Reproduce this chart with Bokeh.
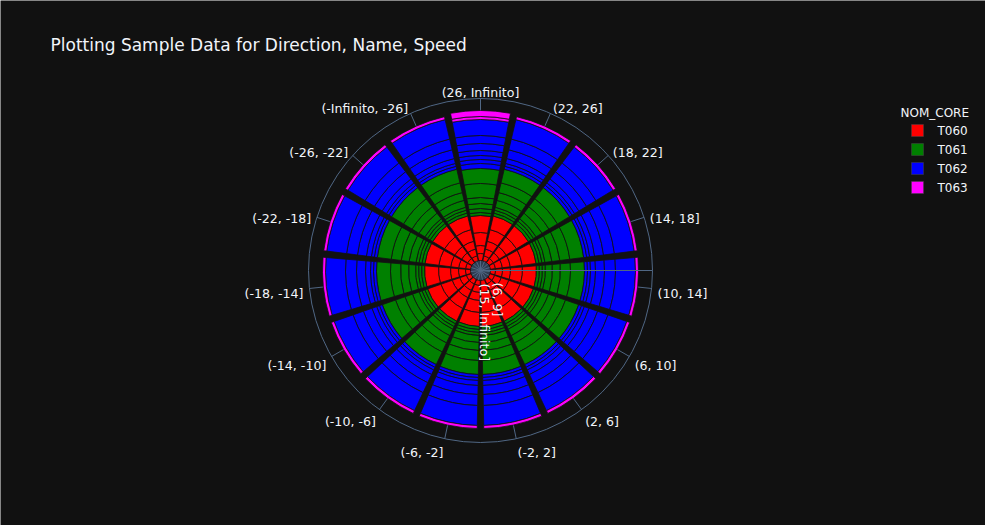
import numpy as np
from bokeh.plotting import figure
from bokeh.models import Range1d, ColumnDataSource
from bokeh.embed import file_html
from bokeh.resources import INLINE
from bokeh.core.properties import value

# ---------------- data ----------------
chart_title = "Plotting Sample Data for Direction, Name, Speed"
directions = ["(26, Infinito]", "(22, 26]", "(18, 22]", "(14, 18]", "(10, 14]",
              "(6, 10]", "(2, 6]", "(-2, 2]", "(-6, -2]", "(-10, -6]",
              "(-14, -10]", "(-18, -14]", "(-22, -18]", "(-26, -22]", "(-Infinito, -26]"]
series_names = ["T060", "T061", "T062", "T063"]
series_colors = ["#ff0000", "#008000", "#0000ff", "#ff00ff"]
legend_title = "NOM_CORE"
radial_tick_labels = ["(6, 9]", "(15, Infinito]"]

# stacked record values (radial units) for each series, most directions
seg_T060 = [5, 7, 8, 12, 14]
seg_T061 = [3, 3, 3, 7, 8, 10, 14]
seg_T062 = [3, 3, 5, 9, 11, 20]
seg_T063 = [3]
# direction "(26, Infinito]"
seg_T060_top = [7, 8, 13, 17]
seg_T061_top = [3, 4, 5, 6, 14, 15]
seg_T062_top = [5, 4, 4, 5, 7, 8, 16]
seg_T063_top = [3, 6]

default_segments = [seg_T060, seg_T061, seg_T062, seg_T063]
top_segments = [seg_T060_top, seg_T061_top, seg_T062_top, seg_T063_top]

# ---------------- layout constants ----------------
BG = "#111111"
GRID = "#506784"
TXT = "#f2f5fa"
FONT = "DejaVu Sans"
HUB = 10          # radial axis offset (hole)
R_OUT = 172       # outer angular axis circle
STEP = 360.0 / len(directions)
BAR_W = STEP * 0.9

p = figure(width=985, height=525, output_backend="svg", toolbar_location=None,
           x_range=Range1d(-480, 505), y_range=Range1d(-255, 270),
           min_border=0, min_border_left=0, min_border_right=0,
           min_border_top=0, min_border_bottom=0)
p.axis.visible = False
p.grid.visible = False
p.outline_line_color = None
p.background_fill_color = BG
p.border_fill_color = BG

thetas = np.array([90 - STEP * i for i in range(len(directions))])

# hub + angular grid lines
p.circle(x=[0], y=[0], radius=HUB, fill_color="#2f3d52", line_color=None)
rad = np.deg2rad(thetas)
p.segment(x0=np.zeros(len(rad)), y0=np.zeros(len(rad)),
          x1=R_OUT * np.cos(rad), y1=R_OUT * np.sin(rad),
          line_color=GRID, line_width=1)
p.circle(x=[0], y=[0], radius=R_OUT, fill_color=None, line_color=GRID, line_width=1)

# stacked bars
inner, outer, start, end, colors = [], [], [], [], []
for i, th in enumerate(thetas):
    segs = top_segments if directions[i] == "(26, Infinito]" else default_segments
    base = HUB
    for s, vals in enumerate(segs):
        for v in vals:
            inner.append(base)
            outer.append(base + v)
            start.append(np.deg2rad(th - BAR_W / 2))
            end.append(np.deg2rad(th + BAR_W / 2))
            colors.append(series_colors[s])
            base += v
src = ColumnDataSource(dict(x=[0] * len(inner), y=[0] * len(inner), inner=inner,
                            outer=outer, start=start, end=end, color=colors))
p.annular_wedge(x="x", y="y", inner_radius="inner", outer_radius="outer",
                start_angle="start", end_angle="end", fill_color="color",
                line_color=BG, line_width=0.8, source=src)

# radial axis line
p.segment(x0=[0], y0=[0], x1=[R_OUT], y1=[0], line_color=GRID, line_width=1)

# angular tick labels
R_LAB = 178
for lab, th in zip(directions, thetas):
    t = np.deg2rad(th)
    c, s = np.cos(t), np.sin(t)
    if c > 0.1:
        align = "left"
    elif c < -0.1:
        align = "right"
    else:
        align = "center"
    xx = R_LAB * c
    yy = R_LAB * s - 4 * (1 - s)
    p.text(x=[xx], y=[yy], text=[lab], text_align=align, text_baseline="middle",
           text_color=TXT, text_font=value(FONT), text_font_size="12.6px")

# radial tick labels (rotated)
p.text(x=[17], y=[-12], text=[radial_tick_labels[0]], angle=-np.pi / 2,
       text_align="left", text_baseline="middle", text_color=TXT,
       text_font=value(FONT), text_font_size="12.6px")
p.text(x=[4], y=[-13], text=[radial_tick_labels[1]], angle=-np.pi / 2,
       text_align="left", text_baseline="middle", text_color=TXT,
       text_font=value(FONT), text_font_size="12.6px")

# title
p.text(x=[-430], y=[226], text=[chart_title], text_align="left", text_baseline="middle",
       text_color=TXT, text_font=value(FONT), text_font_size="17px")

# legend
p.text(x=[420], y=[158], text=[legend_title], text_align="left", text_baseline="middle",
       text_color=TXT, text_font=value(FONT), text_font_size="12px")
for k, (nm, col) in enumerate(zip(series_names, series_colors)):
    yy = 140 - 19 * k
    p.rect(x=[437], y=[yy], width=12, height=12, fill_color=col, line_color="#444444",
           line_width=0.5)
    p.text(x=[457], y=[yy], text=[nm], text_align="left", text_baseline="middle",
           text_color=TXT, text_font=value(FONT), text_font_size="12px")

open("out.html", "w").write(file_html(p, INLINE))
